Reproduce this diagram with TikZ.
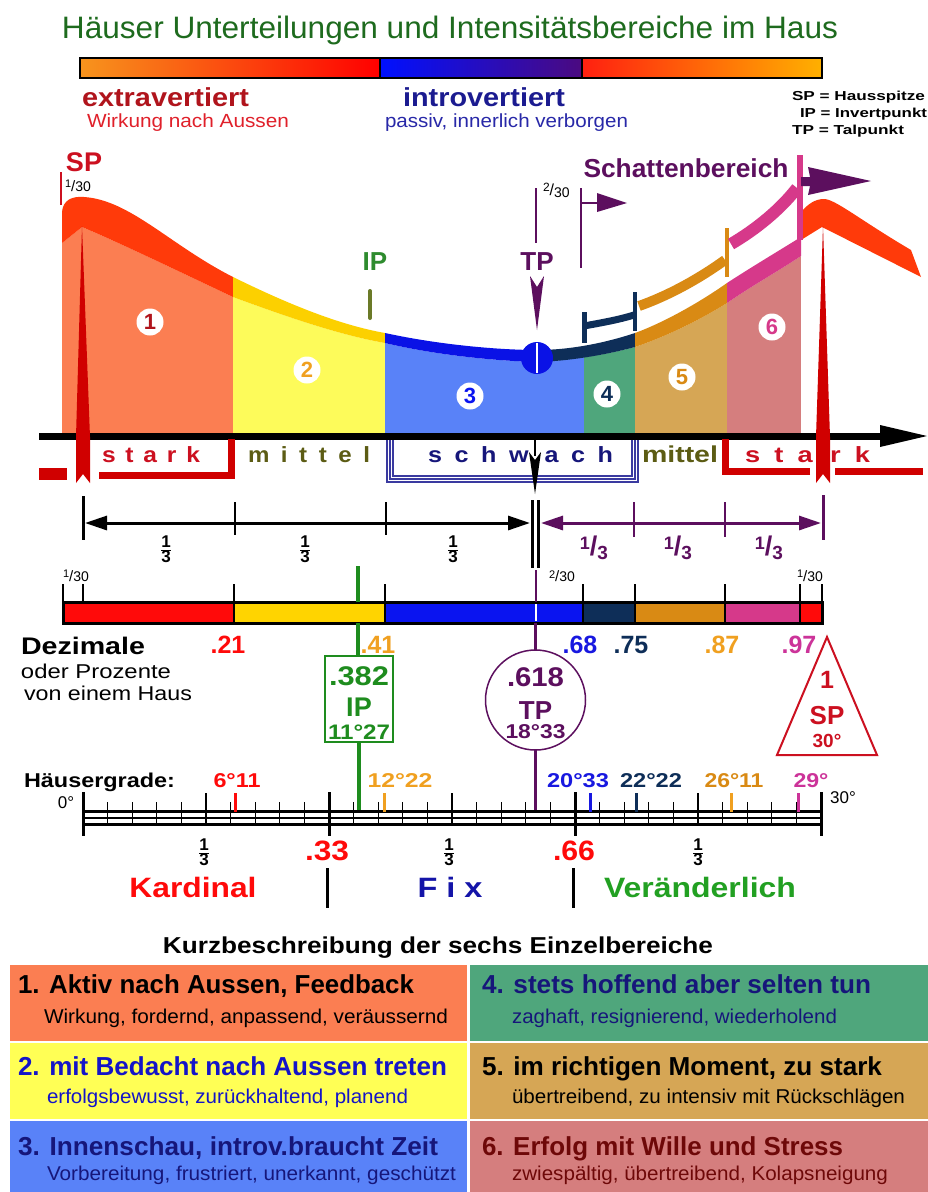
\documentclass[tikz,border=0pt]{standalone}
\usepackage{fontspec}
\setmainfont{Liberation Sans}
\usepackage{graphicx}
\usetikzlibrary{arrows.meta}
\newcommand{\tw}[2]{\resizebox{#1pt}{\height}{#2}}
\newcommand{\fs}[1]{\fontsize{#1}{#1}\selectfont}
\newcommand{\stfr}[2]{$\frac{\mbox{#1}}{\mbox{#2}}$}
\newcommand{\slfr}[2]{\raisebox{6pt}{\fs{18}#1}{\fs{27}/}\raisebox{-4pt}{\fs{19}#2}}
\newcommand{\thfr}[2]{\raisebox{3.5pt}{\fs{11}#1}{\fs{15}/}{\fs{14}#2}}
\definecolor{cTitle}{HTML}{1E6B1E}
\definecolor{cExtra}{HTML}{B0141C}
\definecolor{cWirk}{HTML}{E0202A}
\definecolor{cIntro}{HTML}{1B1B90}
\definecolor{cPassiv}{HTML}{2828A8}
\definecolor{cR1}{HTML}{FB7E52}
\definecolor{cR2}{HTML}{FDFB5A}
\definecolor{cR3}{HTML}{5982F8}
\definecolor{cR4}{HTML}{4FA67C}
\definecolor{cR5}{HTML}{D6A655}
\definecolor{cR6}{HTML}{D57E7E}
\definecolor{cBRed}{HTML}{FF3A0A}
\definecolor{cBGold}{HTML}{FCD000}
\definecolor{cBBlue}{HTML}{0A12E6}
\definecolor{cNavy}{HTML}{0E2E58}
\definecolor{cOrB}{HTML}{D98A14}
\definecolor{cPink}{HTML}{D6398A}
\definecolor{cSpike}{HTML}{D00000}
\definecolor{cSP}{HTML}{CC1020}
\definecolor{cIP}{HTML}{2E8B2E}
\definecolor{cIPtick}{HTML}{6B7A28}
\definecolor{cPur}{HTML}{5C0F5E}
\definecolor{cOlive}{HTML}{5C5C14}
\definecolor{cSchw}{HTML}{16167A}
\definecolor{cBox}{HTML}{3A3AA0}
\definecolor{cDRed}{HTML}{FF0A0A}
\definecolor{cDGold}{HTML}{FFD400}
\definecolor{cDBlue}{HTML}{0A14F0}
\definecolor{cGreen}{HTML}{1E8C1E}
\definecolor{cLOr}{HTML}{F0A020}
\definecolor{cLBlue}{HTML}{1818E0}
\definecolor{cLPink}{HTML}{CC3399}
\definecolor{cVer}{HTML}{22A022}
\definecolor{cFix}{HTML}{1414A8}
\definecolor{cT2}{HTML}{1414C8}
\definecolor{cT6}{HTML}{6E0808}
\definecolor{cG1}{HTML}{F7941D}
\definecolor{cG2}{HTML}{FF0000}
\definecolor{cG3}{HTML}{0010FF}
\definecolor{cG4}{HTML}{4B0A80}
\definecolor{cG5}{HTML}{FF2010}
\definecolor{cG6}{HTML}{FFB000}
\definecolor{cCellY}{HTML}{FFFF55}
\tikzset{
  numc/.style={circle, fill=white, minimum size=27pt, inner sep=0pt, font=\fs{22}\bfseries},
  celltitle/.style={anchor=base west, inner sep=0pt, font=\fs{26}\bfseries},
  cellsub/.style={anchor=base west, inner sep=0pt, font=\fs{20}},
}
\begin{document}
\begin{tikzpicture}[x=1pt,y=-1pt, every node/.style={inner sep=0pt, outer sep=0pt}]
\useasboundingbox (0,0) rectangle (928,1192);
\fill[white] (0,0) rectangle (928,1192);

% ---------- title and gradient bar
\node[anchor=base, text=cTitle] (title) at (450,38) {\fs{31}\tw{776}{Häuser Unterteilungen und Intensitätsbereiche im Haus}};
\shade[left color=cG1, right color=cG2] (80,58) rectangle (380,78);
\shade[left color=cG3, right color=cG4] (380,58) rectangle (582,78);
\shade[left color=cG5, right color=cG6] (582,58) rectangle (822,78);
\draw[line width=1.2] (80,58) rectangle (822,78);
\draw[line width=1.2] (380,58) -- (380,78) (582,58) -- (582,78);

\node[anchor=base west, text=cExtra] (extra) at (82,106) {\fs{26}\bfseries\tw{167}{extravertiert}};
\node[anchor=base west, text=cWirk] (wirk) at (87,127) {\fs{19}\tw{202}{Wirkung nach Aussen}};
\node[anchor=base west, text=cIntro] (intro) at (403,106) {\fs{26}\bfseries\tw{162}{introvertiert}};
\node[anchor=base west, text=cPassiv] (passiv) at (385,127) {\fs{19}\tw{243}{passiv, innerlich verborgen}};
\node[anchor=base west] (lsp) at (792,100) {\fs{13}\bfseries\tw{133}{SP = Hausspitze}};
\node[anchor=base west] (lip) at (800,117) {\fs{13}\bfseries\tw{127}{IP = Invertpunkt}};
\node[anchor=base west] (ltp) at (792,134) {\fs{13}\bfseries\tw{112}{TP = Talpunkt}};

% ---------- region fills below the curve
\begin{scope}
\clip (62,243) -- (82,227) .. controls (120,243) and (180,272) .. (233,297)
  .. controls (290,318) and (340,335) .. (385,343)
  .. controls (440,356) and (500,361) .. (537,362)
  .. controls (570,360) and (605,355) .. (635,347)
  .. controls (665,337) and (700,320) .. (727,303)
  .. controls (750,287) and (780,270) .. (801,256) -- (801,434) -- (62,434) -- cycle;
\fill[cR1] (62,200) rectangle (233,434);
\fill[cR2] (233,200) rectangle (385,434);
\fill[cR3] (385,200) rectangle (584,434);
\fill[cR4] (584,200) rectangle (635,434);
\fill[cR5] (635,200) rectangle (727,434);
\fill[cR6] (727,200) rectangle (801,434);
\end{scope}

% ---------- right SP band (behind)
\fill[cBRed] (801,240) -- (801,212) .. controls (808,204) and (815,199) .. (824,199)
  .. controls (835,199) and (860,220) .. (911,250) -- (921,277) -- (822,227) -- cycle;

% ---------- band segments
\fill[cBRed] (62,243) -- (62,212) .. controls (63,200) and (72,196) .. (84,197)
  .. controls (130,200) and (170,245) .. (233,277) -- (233,297)
  .. controls (180,272) and (120,243) .. (82,227) -- cycle;
\fill[cBGold] (233,277) .. controls (290,305) and (340,325) .. (385,333) -- (385,343)
  .. controls (340,335) and (290,318) .. (233,297) -- cycle;
\fill[cBBlue] (385,333) .. controls (440,345) and (500,350) .. (537,350) -- (537,362)
  .. controls (500,361) and (440,356) .. (385,343) -- cycle;
\fill[cNavy] (537,350) .. controls (570,350) and (605,343) .. (635,333) -- (635,347)
  .. controls (605,355) and (570,361) .. (537,362) -- cycle;
\fill[cOrB] (635,333) .. controls (665,322) and (700,302) .. (727,283) -- (727,303)
  .. controls (700,320) and (665,337) .. (635,347) -- cycle;
\fill[cPink] (727,283) .. controls (750,268) and (780,250) .. (801,237) -- (801,256)
  .. controls (780,270) and (750,287) .. (727,303) -- cycle;

% ---------- shadow (upper) bands
\draw[cNavy, line width=7] (584,326) .. controls (600,323) and (618,320) .. (634,315);
\draw[cNavy, line width=5] (584,312) -- (584,343);
\draw[cNavy, line width=4] (635,292) -- (635,331);
\draw[cOrB, line width=10] (639,306) .. controls (670,295) and (700,278) .. (725,260);
\draw[cOrB, line width=4] (727,228) -- (727,277);
\draw[cPink, line width=12] (731,244) .. controls (755,230) and (780,210) .. (797,188);
\draw[cPink, line width=6] (800,155) -- (800,240);
\fill[cPur] (801,177) -- (810,177) -- (808,167) -- (871,181) -- (808,195) -- (810,186) -- (801,186) -- cycle;
\node[text=cPur] (schatten) at (686,168) {\fs{26}\bfseries\tw{205}{Schattenbereich}};

% ---------- SP / IP / TP marks
\node[text=cSP] (sptop) at (84,162) {\fs{27}\bfseries SP};
\draw[cSP, line width=1.5] (61,172) -- (61,205);
\node[anchor=west] (f130a) at (65,186) {\thfr{1}{30}};
\node[text=cIP] (iptop) at (375,262) {\fs{26}\bfseries IP};
\draw[cIPtick, line width=4, line cap=round] (370,291) -- (370,318);
\node[text=cPur] (tptop) at (537,262) {\fs{26}\bfseries TP};
\draw[cPur, line width=2] (536,188) -- (536,243);
\draw[cPur, line width=2] (581,188) -- (581,268);
\draw[cPur, line width=2.5] (581,203) -- (600,203);
\fill[cPur] (597,193) -- (627,203) -- (597,212) -- cycle;
\node[anchor=west] (f230a) at (543,190) {\raisebox{4pt}{\fs{12}2}{\fs{16}/}\raisebox{-2pt}{\fs{14}30}};
\fill[cPur] (530,276) -- (537,287) -- (544,276) -- (537,330) -- cycle;
\fill[cBBlue] (537,358) circle (16);
\draw[white, line width=1.5] (537,343) -- (537,373);

% circled numbers
\node[numc, text=cExtra] (n1) at (150,322) {1};
\node[numc, text=cLOr] (n2) at (307,370) {2};
\node[numc, text=cDBlue] (n3) at (470,396) {3};
\node[numc, text=cNavy] (n4) at (607,394) {4};
\node[numc, text=cOrB] (n5) at (682,377) {5};
\node[numc, text=cPink] (n6) at (772,327) {6};

% ---------- axis
\draw[line width=7] (39,436) -- (885,436);
\fill (880,425) -- (927,436) -- (880,447) -- cycle;

% spikes
\fill[cSpike] (82,226) -- (90,437) -- (90,483) -- (83,474) -- (76,483) -- (76,437) -- cycle;
\fill[cSpike] (823,226) -- (830,437) -- (830,483) -- (823,474) -- (816,483) -- (816,437) -- cycle;

% brackets
\fill[cSpike] (39,468) rectangle (67,480);
\draw[cSpike, line width=7] (99,475.5) -- (231.5,475.5) -- (231.5,439);
\draw[cSpike, line width=7] (810,471.5) -- (725.5,471.5) -- (725.5,439);
\draw[cSpike, line width=7] (835,471.5) -- (923,471.5);
\foreach \d in {0,3,6}
  \draw[cBox, line width=1.1] (387+\d,440) -- (387+\d,482-\d) -- (638-\d,482-\d) -- (638-\d,440);
\draw[line width=2] (535,436) -- (535,456);
\fill (529,452) -- (535,460) -- (541,452) -- (535,494) -- cycle;

\node[anchor=base west, text=cSP] (stark1) at (102,462) {\fs{22}\bfseries\tw{98}{\addfontfeature{LetterSpace=40}stark}};
\node[anchor=base west, text=cOlive] (mittel1) at (248,462) {\fs{22}\bfseries\tw{122}{\addfontfeature{LetterSpace=48}mittel}};
\node[anchor=base west, text=cSchw] (schwach) at (428,462) {\fs{22}\bfseries\tw{185}{\addfontfeature{LetterSpace=50}schw\hspace{14pt}ach}};
\node[anchor=base west, text=cOlive] (mittel2) at (642,462) {\fs{23}\bfseries\tw{76}{mittel}};
\node[anchor=base west, text=cSP] (stark2) at (745,462) {\fs{22}\bfseries\tw{125}{\addfontfeature{LetterSpace=52}sta\hspace{14pt}rk}};

% ---------- thirds row
\draw[line width=3] (83,496) -- (83,540);
\draw[line width=2.5] (235,502) -- (235,535) (386,502) -- (386,535);
\draw[line width=3] (532.5,500) -- (532.5,568);
\draw[line width=3] (538.5,500) -- (538.5,568);
\draw[line width=3, {Triangle[length=22pt,width=14pt]}-{Triangle[length=22pt,width=14pt]}] (85,523) -- (530,523);
\draw[cPur, line width=3, {Triangle[length=22pt,width=14pt]}-{Triangle[length=22pt,width=14pt]}] (541,523) -- (821,523);
\draw[cPur, line width=2.5] (634,502) -- (634,537) (725,502) -- (725,537);
\draw[cPur, line width=3] (823,495) -- (823,540);
\node (t1) at (166,549) {\fs{17}\bfseries\stfr{1}{3}};
\node (t2) at (305,549) {\fs{17}\bfseries\stfr{1}{3}};
\node (t3) at (453,549) {\fs{17}\bfseries\stfr{1}{3}};
\node[text=cPur] (p1) at (594,548) {\bfseries\slfr{1}{3}};
\node[text=cPur] (p2) at (678,548) {\bfseries\slfr{1}{3}};
\node[text=cPur] (p3) at (769,548) {\bfseries\slfr{1}{3}};

% ---------- decimal bar
\node (f130b) at (76,576) {\thfr{1}{30}};
\node (f230b) at (562,576) {\thfr{2}{30}};
\node (f130c) at (810,576) {\thfr{1}{30}};
\foreach \a/\b/\c in {63/234/cDRed, 234/385/cDGold, 385/583/cDBlue, 583/635/cNavy, 635/725/cOrB, 725/800/cPink, 800/822/cDRed}
  \fill[\c] (\a,602) rectangle (\b,623);
\foreach \x in {234,385,583,635,725,800}
  \draw[line width=1.5] (\x,602) -- (\x,623);
\draw[white, line width=2] (535.5,604) -- (535.5,621);
\draw[line width=3] (63,602) rectangle (822,623);
\foreach \x in {63,83,234,385,583,635,725,800,822}
  \draw[line width=2] (\x,584) -- (\x,602);
\draw[cGreen, line width=3.5] (358,566) -- (358,602);
\draw[cGreen, line width=3.5] (358,623) -- (358,656);
\draw[cGreen, line width=3.5] (359,742) -- (359,812);
\draw[cPur, line width=2] (535.5,570) -- (535.5,602);
\draw[cPur, line width=3] (535.5,623) -- (535.5,650);
\draw[cPur, line width=3] (535.5,750) -- (535.5,812);

\node[font=\fs{25}\bfseries, text=cDRed] (d21) at (228,645) {.21};
\node[font=\fs{25}\bfseries, text=cLOr] (d41) at (378,645) {.41};
\node[font=\fs{25}\bfseries, text=cLBlue] (d68) at (580,645) {.68};
\node[font=\fs{25}\bfseries, text=cNavy] (d75) at (631,645) {.75};
\node[font=\fs{25}\bfseries, text=cLOr] (d87) at (722,645) {.87};
\node[font=\fs{25}\bfseries, text=cLPink] (d97) at (799,645) {.97};
\node[anchor=base west] (dez) at (21,654) {\fs{24}\bfseries\tw{124}{Dezimale}};
\node[anchor=base west] (proz) at (21,678) {\fs{20}\tw{150}{oder Prozente}};
\node[anchor=base west] (haus) at (24,700) {\fs{20}\tw{168}{von einem Haus}};

\draw[cGreen, line width=2, fill=white] (325,656) rectangle (393,742);
\node[text=cGreen] (ip382) at (359,676) {\fs{27}\bfseries\tw{60}{.382}};
\node[text=cGreen] (ipbox) at (359,707) {\fs{27}\bfseries IP};
\node[text=cGreen] (ipdeg) at (359,732) {\fs{21}\bfseries\tw{62}{11°27}};
\draw[cPur, line width=1.5] (535.5,700) circle (50);
\node[text=cPur] (tp618) at (535.5,677) {\fs{27}\bfseries\tw{57}{.618}};
\node[text=cPur] (tpc) at (535.5,711) {\fs{26}\bfseries TP};
\node[text=cPur] (tpdeg) at (535.5,732) {\fs{20}\bfseries\tw{60}{18°33}};
\draw[cSP, line width=2] (827,637) -- (877,755) -- (777,755) -- cycle;
\node[text=cSP] (sp1) at (827,680) {\fs{25}\bfseries 1};
\node[text=cSP] (sp2) at (827,716) {\fs{26}\bfseries SP};
\node[text=cSP] (sp3) at (827,741) {\fs{19}\bfseries 30°};

% ---------- Häusergrade scale
\node[anchor=base west] (hg) at (24,787) {\fs{20}\bfseries\tw{151}{Häusergrade:}};
\node[anchor=base, font=\fs{20}\bfseries, text=cDRed] (g611) at (237,787) {\tw{47}{6°11}};
\node[anchor=base, font=\fs{20}\bfseries, text=cLOr] (g1222) at (400,787) {\tw{65}{12°22}};
\node[anchor=base, font=\fs{20}\bfseries, text=cLBlue] (g2033) at (578,787) {\tw{62}{20°33}};
\node[anchor=base, font=\fs{20}\bfseries, text=cNavy] (g2222) at (651,787) {\tw{62}{22°22}};
\node[anchor=base, font=\fs{20}\bfseries, text=cOrB] (g2611) at (734,787) {\tw{59}{26°11}};
\node[anchor=base, font=\fs{20}\bfseries, text=cLPink] (g29) at (811,787) {\tw{35}{29°}};
\node[anchor=base, font=\fs{17}] (g0) at (66,808) {0°};
\node[anchor=base, font=\fs{17}] (g30) at (843,803) {30°};

\foreach \i in {0,...,30} {
  \pgfmathsetmacro\xx{83+\i*24.6}
  \draw[line width=1.3] (\xx,802) -- (\xx,824);
}
\foreach \i in {5,15,25} {
  \pgfmathsetmacro\xx{83+\i*24.6}
  \draw[line width=2] (\xx,793) -- (\xx,812);
}
\foreach \i in {0,10,20,30} {
  \pgfmathsetmacro\xx{83+\i*24.6}
  \draw[line width=3] (\xx,792) -- (\xx,836);
}
\draw[line width=3] (83,811.5) -- (821,811.5);
\draw[line width=1.3] (83,818) -- (821,818);
\draw[line width=3] (83,824.5) -- (821,824.5);
\foreach \x/\c in {235/cDRed, 384/cLOr, 590/cLBlue, 636/cNavy, 731/cLOr, 798/cLPink}
  \draw[\c, line width=3] (\x,793) -- (\x,812);

\node (h1) at (204,852) {\fs{17}\bfseries\stfr{1}{3}};
\node (h2) at (449,852) {\fs{17}\bfseries\stfr{1}{3}};
\node (h3) at (698,852) {\fs{17}\bfseries\stfr{1}{3}};
\node[text=cDRed] (d33) at (327,851) {\fs{28}\bfseries\tw{44}{.33}};
\node[text=cDRed] (d66) at (574,851) {\fs{28}\bfseries\tw{42}{.66}};
\draw[line width=3] (327,868) -- (327,908);
\draw[line width=3] (573,868) -- (573,908);
\node[text=cDRed] (kard) at (193,887) {\fs{28}\bfseries\tw{127}{Kardinal}};
\node[text=cFix] (fix) at (450,887) {\fs{28}\bfseries\tw{65}{F i x}};
\node[text=cVer] (ver) at (700,887) {\fs{28}\bfseries\tw{192}{Veränderlich}};

% ---------- description table
\node[anchor=base] (kurz) at (438,953) {\fs{23}\bfseries\tw{550}{Kurzbeschreibung der sechs Einzelbereiche}};
\fill[cR1] (10,965) rectangle (467,1041);
\fill[cR4] (470,965) rectangle (928,1041);
\fill[cCellY] (10,1043) rectangle (467,1119);
\fill[cR5] (470,1043) rectangle (928,1119);
\fill[cR3] (10,1121) rectangle (467,1192);
\fill[cR6] (470,1121) rectangle (928,1192);

\node[celltitle] (c1t) at (18,993) {\tw{396}{1. Aktiv nach Aussen, Feedback}};
\node[cellsub] (c1s) at (44,1023) {\tw{404}{Wirkung, fordernd, anpassend, veräussernd}};
\node[celltitle, text=cSchw] (c4t) at (482,993) {\tw{389}{4. stets hoffend aber selten tun}};
\node[cellsub, text=cSchw] (c4s) at (512,1023) {\tw{325}{zaghaft, resignierend, wiederholend}};
\node[celltitle, text=cT2] (c2t) at (18,1075) {\tw{429}{2. mit Bedacht nach Aussen treten}};
\node[cellsub, text=cT2] (c2s) at (47,1103) {\tw{361}{erfolgsbewusst, zurückhaltend, planend}};
\node[celltitle] (c5t) at (482,1075) {\tw{400}{5. im richtigen Moment, zu stark}};
\node[cellsub] (c5s) at (512,1103) {\tw{393}{übertreibend, zu intensiv mit Rückschlägen}};
\node[celltitle, text=cSchw] (c3t) at (18,1155) {\tw{420}{3. Innenschau, introv.braucht Zeit}};
\node[cellsub, text=cSchw] (c3s) at (47,1180) {\tw{409}{Vorbereitung, frustriert, unerkannt, geschützt}};
\node[celltitle, text=cT6] (c6t) at (482,1155) {\tw{361}{6. Erfolg mit Wille und Stress}};
\node[cellsub, text=cT6] (c6s) at (512,1180) {\tw{376}{zwiespältig, übertreibend, Kolapsneigung}};
\end{tikzpicture}
\end{document}
